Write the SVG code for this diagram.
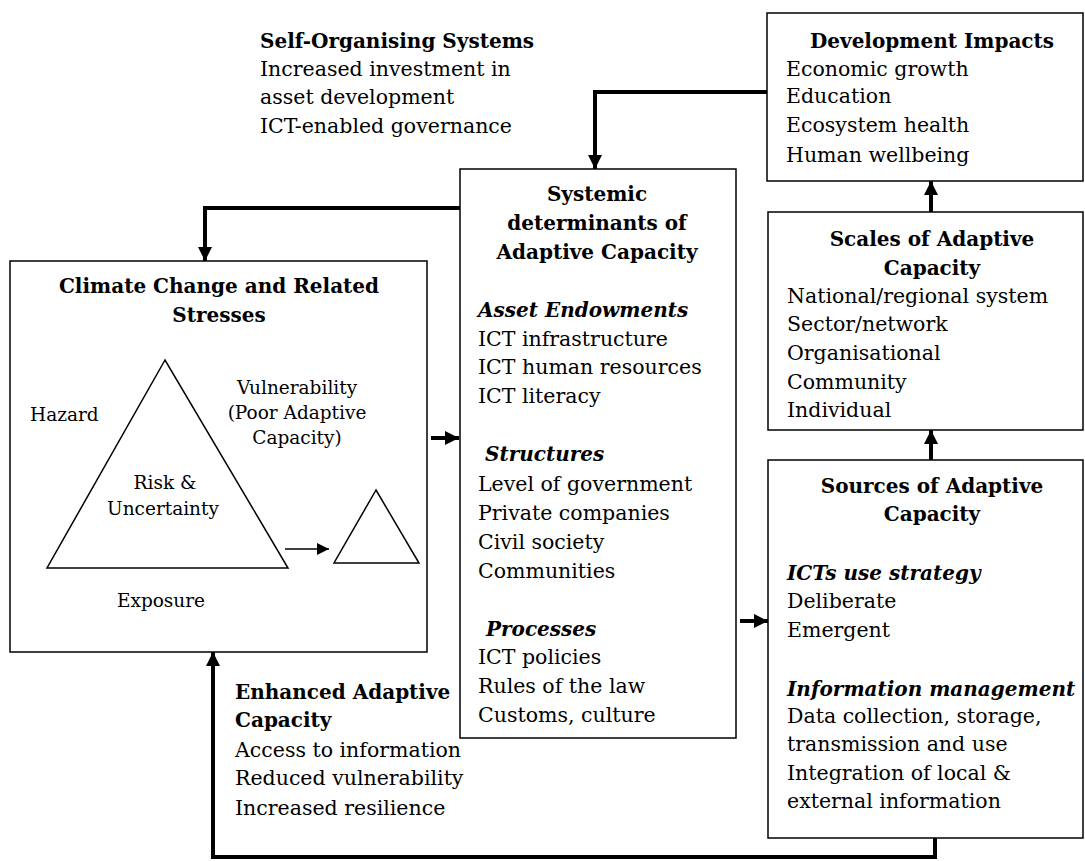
<svg xmlns="http://www.w3.org/2000/svg" width="1085" height="861" viewBox="0 0 1085 861">
<defs>
<style>
text{font-family:"DejaVu Serif","Liberation Serif",serif;font-size:20.5px;fill:#000}
.b{font-weight:bold;font-size:20px}
.bi{font-weight:bold;font-style:italic;font-size:20px}
.c{text-anchor:middle}
.sm{font-size:18.5px}
.box{fill:#fff;stroke:#000;stroke-width:1.5}
.tri{fill:none;stroke:#000;stroke-width:1.5}
.con{fill:none;stroke:#000;stroke-width:4}
.thin{fill:none;stroke:#000;stroke-width:1.5}
</style>
<marker id="ah" viewBox="0 0 10 10" refX="10" refY="5" markerWidth="14" markerHeight="14" markerUnits="userSpaceOnUse" orient="auto">
<path d="M0,0 L10,5 L0,10 Z" fill="#000"/>
</marker>
<marker id="ahs" viewBox="0 0 10 10" refX="10" refY="5" markerWidth="12" markerHeight="12" markerUnits="userSpaceOnUse" orient="auto">
<path d="M0,0 L10,5 L0,10 Z" fill="#000"/>
</marker>
</defs>
<rect width="1085" height="861" fill="#fff"/>

<g id="connectors">
<path class="con" d="M767,92 H595 V169" marker-end="url(#ah)"/>
<path class="con" d="M460,208 H205 V261" marker-end="url(#ah)"/>
<path class="con" d="M935,838 V857 H213 V652" marker-end="url(#ah)"/>
<path class="con" d="M431,438 H459" marker-end="url(#ah)"/>
<path class="con" d="M740,621 H768" marker-end="url(#ah)"/>
<path class="con" d="M931,212 V181" marker-end="url(#ah)"/>
<path class="con" d="M931,460 V430" marker-end="url(#ah)"/>
</g>

<g id="self-organising">
<text class="b" x="260" y="48">Self-Organising Systems</text>
<text x="260" y="76">Increased investment in</text>
<text x="260" y="104">asset development</text>
<text x="260" y="133">ICT-enabled governance</text>
</g>

<g id="development-impacts">
<rect class="box" x="767" y="13" width="316" height="168"/>
<text class="b c" x="932" y="48">Development Impacts</text>
<text x="786" y="76">Economic growth</text>
<text x="786" y="103">Education</text>
<text x="786" y="132">Ecosystem health</text>
<text x="786" y="162">Human wellbeing</text>
</g>

<g id="systemic">
<rect class="box" x="460" y="169" width="276" height="569"/>
<text class="b c" x="597" y="201">Systemic</text>
<text class="b c" x="597" y="230">determinants of</text>
<text class="b c" x="597" y="259">Adaptive Capacity</text>
<text class="bi" x="478" y="317">Asset Endowments</text>
<text x="478" y="346">ICT infrastructure</text>
<text x="478" y="374">ICT human resources</text>
<text x="478" y="403">ICT literacy</text>
<text class="bi" x="485" y="461">Structures</text>
<text x="478" y="491">Level of government</text>
<text x="478" y="520">Private companies</text>
<text x="478" y="549">Civil society</text>
<text x="478" y="578">Communities</text>
<text class="bi" x="486" y="636">Processes</text>
<text x="478" y="664">ICT policies</text>
<text x="478" y="693">Rules of the law</text>
<text x="478" y="722">Customs, culture</text>
</g>

<g id="climate">
<rect class="box" x="10" y="261" width="417" height="391"/>
<text class="b c" x="219" y="293">Climate Change and Related</text>
<text class="b c" x="219" y="322">Stresses</text>
<polygon class="tri" points="165,360 47,568 288,568"/>
<polygon class="tri" points="376,490 334,563 419,563"/>
<path class="thin" d="M285,549 H329" marker-end="url(#ahs)"/>
<text class="sm" x="30" y="421">Hazard</text>
<text class="sm c" x="297" y="394">Vulnerability</text>
<text class="sm c" x="297" y="419">(Poor Adaptive</text>
<text class="sm c" x="297" y="444">Capacity)</text>
<text class="sm c" x="165" y="489">Risk &amp;</text>
<text class="sm c" x="163" y="515">Uncertainty</text>
<text class="sm c" x="161" y="607">Exposure</text>
</g>

<g id="scales">
<rect class="box" x="768" y="212" width="315" height="218"/>
<text class="b c" x="932" y="246">Scales of Adaptive</text>
<text class="b c" x="932" y="275">Capacity</text>
<text x="787" y="303">National/regional system</text>
<text x="787" y="331">Sector/network</text>
<text x="787" y="360">Organisational</text>
<text x="787" y="389">Community</text>
<text x="787" y="417">Individual</text>
</g>

<g id="sources">
<rect class="box" x="768" y="460" width="315" height="378"/>
<text class="b c" x="932" y="493">Sources of Adaptive</text>
<text class="b c" x="932" y="521">Capacity</text>
<text class="bi" x="787" y="580">ICTs use strategy</text>
<text x="787" y="608">Deliberate</text>
<text x="787" y="637">Emergent</text>
<text class="bi" x="787" y="696">Information management</text>
<text x="787" y="723">Data collection, storage,</text>
<text x="787" y="751">transmission and use</text>
<text x="787" y="780">Integration of local &amp;</text>
<text x="787" y="808">external information</text>
</g>

<g id="enhanced">
<text class="b" x="235" y="699">Enhanced Adaptive</text>
<text class="b" x="235" y="727">Capacity</text>
<text x="235" y="757">Access to information</text>
<text x="235" y="785">Reduced vulnerability</text>
<text x="235" y="815">Increased resilience</text>
</g>
</svg>
